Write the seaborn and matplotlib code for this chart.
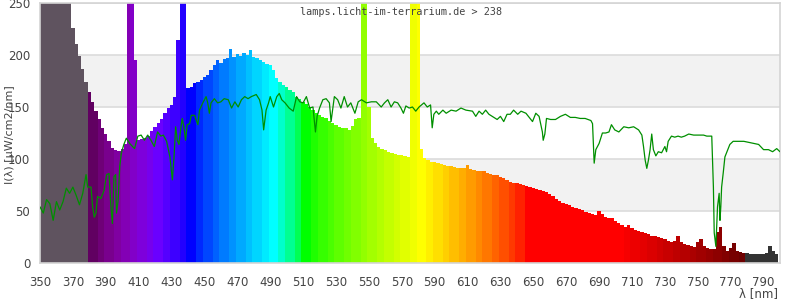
import numpy as np
import matplotlib
matplotlib.use('Agg')
import matplotlib.pyplot as plt
import seaborn as sns

# lamp spectrum, 2 nm steps from 350 to 798 nm  (values > 250 are off-scale lines)
wavelength = np.arange(350, 800, 2)
intensity = [
    300, 300, 300, 300, 300, 300, 300, 300, 300,
    250, 226, 211, 199, 187, 174,
    164, 155, 146, 138, 130, 124, 117, 111, 109, 108,
    110, 114, 400, 400, 195, 118, 119, 120, 122, 127,
    131, 135, 138, 144, 149, 152, 160, 214, 400, 400,
    168, 169, 173, 174, 176, 179, 181, 186, 190, 195,
    192, 196, 197, 206, 198, 201, 199, 202, 200, 205,
    198, 197, 195, 193, 191, 190, 186, 178, 174, 171,
    169, 166, 164, 160, 158, 155, 153, 150, 147, 144,
    142, 140, 139, 137, 135, 133, 131, 130, 130, 128,
    132, 138, 139, 400, 400, 150, 120, 115, 112, 110,
    109, 107, 106, 105, 104, 104, 103, 102, 400, 400,
    400, 110, 101, 99, 97, 97, 96, 95, 94, 93,
    93, 92, 91, 91, 91, 94, 90, 89, 88, 88,
    88, 87, 86, 85, 85, 83, 82, 80, 78, 77,
    77, 76, 75, 74, 73, 72, 71, 70, 69, 68,
    66, 64, 62, 60, 58, 57, 56, 54, 53, 52,
    51, 49, 48, 47, 46, 50, 47, 44, 43, 43,
    40, 38, 36.5, 35, 37, 34, 32, 31, 30, 29,
    28, 26, 26, 25, 24, 23, 21, 20, 21, 26,
    20, 18, 17, 16, 15.5, 20, 23, 16, 14, 13.5,
    13, 30, 35, 16, 12, 14, 19, 12, 11, 10,
    9.5, 9, 9, 9, 9, 9, 10, 16, 12, 9,
]

# green reference curve
ref_nm = [
    350, 352, 354, 356, 358, 360, 362, 364, 366, 368, 370, 372, 374, 376, 378, 379,
    381, 382, 383, 384, 385, 387, 389, 390.5, 392, 393, 394, 395, 396, 396.5, 397.5,
    398.5, 399.5, 401, 402.5, 404.5, 407.5, 409.5, 411.5, 413.5, 415.5, 417.5, 419.5,
    421.5, 423.5, 425, 427, 429, 430.5, 431.5, 432.5, 433.5, 434.5, 435.5, 436.5,
    437.5, 438.5, 439.5, 441, 442, 444, 446, 447, 449, 451, 452, 453, 454, 456, 458,
    460, 462, 464.5, 466.5, 468.5, 470.5, 472.5, 474.5, 476.5, 478.5, 481.5, 483.5,
    485, 486, 487.5, 489, 490, 492, 494, 495.5, 497, 499, 501.5, 504, 506, 508, 510,
    512, 514, 516, 517.5, 518.5, 520, 522, 524, 526, 527, 529, 531, 533, 535, 537,
    539, 541.5, 543.5, 545.5, 548.5, 551.5, 554.5, 557.5, 559.5, 561.5, 563.5, 565.5,
    567.5, 569.5, 571, 572.5, 574.5, 576.5, 578.5, 580.5, 583.5, 585.5, 587.5, 588.5,
    589.5, 591, 592.5, 595, 597, 600, 603, 606, 609, 613, 615, 617, 619, 621, 623,
    625, 628, 630, 632, 634, 636, 638, 640.5, 642.5, 645.5, 648, 649.5, 651.5, 653.5,
    655.5, 656, 657, 658, 660.5, 663.5, 666.5, 669.5, 672.5, 675.5, 678.5, 681.5,
    685, 686, 687, 688, 690, 692, 694, 696, 697.5, 699.5, 702, 705, 708, 711, 714,
    716, 717, 718, 719, 720, 721, 722, 723, 724.5, 726, 728, 730, 731, 732, 734, 736,
    738, 740, 742, 744.5, 747.5, 750.5, 753.5, 755.5, 758.5, 759, 759.5, 760, 761,
    761.5, 762, 763, 763.5, 764, 764.5, 765.5, 766.5, 768.5, 769.5, 771.5, 775, 778,
    781, 784, 787, 790, 793, 795.5, 798, 800,
]
ref_val = [
    54, 48, 61, 57, 41, 59, 51, 59, 72, 67, 73, 65, 56, 67, 85, 73,
    73, 54, 44, 48, 64, 62, 70, 85, 86, 57, 38, 83, 85, 48, 60,
    93, 106, 114, 120, 115, 110, 122, 123, 118, 123, 118, 112,
    126, 122, 123, 117, 102, 80, 102, 131, 118, 114, 128, 139,
    131, 118, 133, 134, 142, 142, 133, 147, 154, 160, 154, 144, 154, 158, 154,
    155, 158, 157, 149, 155, 150, 157, 160, 158, 160, 162, 157,
    147, 128, 147, 154, 160, 150, 160, 163, 157, 154, 149, 146, 160, 155, 154,
    160, 149, 150, 126, 141, 149, 157, 158, 154, 136, 160, 157, 149, 160, 150,
    154, 144, 155, 157, 154, 155, 155, 150, 154, 157, 150, 155,
    154, 149, 144, 151, 149, 150, 146, 150, 154, 150, 152, 130,
    143, 146, 143, 147, 144, 147, 146, 149, 147, 146, 141, 146, 143, 147, 143,
    141, 138, 141, 136, 143, 143, 147, 143, 146, 144, 139, 136, 144, 141,
    126, 118, 124, 139, 138, 138, 141, 143, 140, 140, 139, 139,
    137, 134, 96, 109, 115, 125, 125, 126, 133, 128, 126, 131, 130, 131, 128,
    123, 112, 99, 91, 99, 109, 124, 109, 103, 107, 106, 112, 107, 117, 122, 121,
    122, 121, 122, 124, 123, 123, 123, 122, 122, 96, 73, 29, 16,
    35, 54, 67, 41, 54, 73, 87, 102, 110, 114, 117, 117, 117,
    116, 115, 114, 109, 109, 107, 110, 107,
]


def wl_color(nm):
    if nm < 380:
        return '#5f535f'
    if nm >= 780:
        return '#333333'
    w = (nm // 5) * 5
    if w < 440:
        r, g, b = (440 - w) / 60, 0.0, 1.0
    elif w < 490:
        r, g, b = 0.0, (w - 440) / 50, 1.0
    elif w < 510:
        r, g, b = 0.0, 1.0, (510 - w) / 20
    elif w < 580:
        r, g, b = (w - 510) / 70, 1.0, 0.0
    elif w < 645:
        r, g, b = 1.0, (645 - w) / 65, 0.0
    else:
        r, g, b = 1.0, 0.0, 0.0
    if w < 420:
        f = 0.3 + 0.7 * (w - 380) / 40
    elif w > 700:
        f = 0.3 + 0.7 * (780 - w) / 80
    else:
        f = 1.0
    return tuple((c * f) ** 0.8 if c > 0 else 0.0 for c in (r, g, b))


sns.set_style('white')
plt.rcParams['font.family'] = ['DejaVu Sans']

fig = plt.figure(figsize=(8, 3), dpi=100)
ax = fig.add_axes([0.05, 0.1233, 0.925, 0.8667])

for lo in (50, 150):
    ax.axhspan(lo, lo + 50, color='#f2f2f2', zorder=0, lw=0)
for y in range(50, 251, 50):
    ax.axhline(y, color='#dcdcdc', lw=1.2, zorder=0.5)

colors = [wl_color(w) for w in wavelength]
ax.bar(wavelength, intensity, width=2, color=colors, linewidth=0,
       antialiased=False, zorder=2)
sns.lineplot(x=ref_nm, y=ref_val, ax=ax, color='#008f00', lw=0.9, zorder=3)

ax.set_xlim(350, 800)
ax.set_ylim(0, 250)
ax.set_xticks(range(350, 800, 20))
ax.set_yticks(range(0, 251, 50))
ax.tick_params(length=0, labelsize=8.5, colors='#444444')
ax.tick_params(axis='x', pad=9)
ax.tick_params(axis='y', pad=7)
for s in ax.spines.values():
    s.set_color('#d4d4d4')
    s.set_linewidth(1.2)
ax.set_xlabel('')
ax.set_ylabel('')

fig.text(0.501, 0.96, 'lamps.licht-im-terrarium.de > 238', family='DejaVu Sans Mono',
         size=7.3, color='#444444', ha='center', va='center')
fig.text(0.013, 0.55, 'I(λ) [µW/cm2/nm]', rotation=90, size=8, color='#444444',
         ha='center', va='center')
fig.text(0.9725, 0.0, 'λ [nm]', size=8.5, color='#444444', ha='right', va='bottom')

fig.savefig('out.png', dpi=100)
